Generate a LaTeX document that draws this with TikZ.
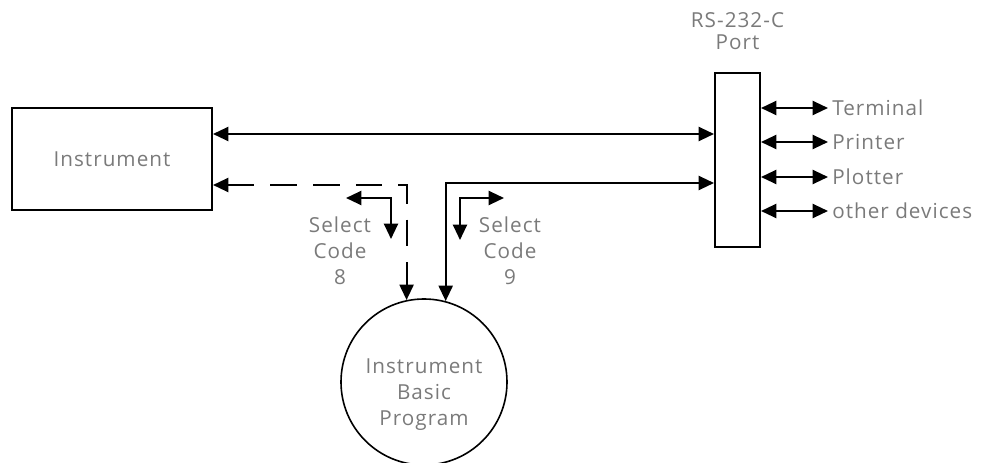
\documentclass[tikz,border=0pt]{standalone}
\usepackage{fontspec}
\setmainfont[LetterSpace=5]{Open Sans}
\usetikzlibrary{arrows.meta}
\definecolor{txtgray}{HTML}{7A7A7A}
\begin{document}
\begin{tikzpicture}[x=0.75pt,y=-0.75pt,
  lbl/.style={text=txtgray, font=\fontsize{15.5}{19.5}\selectfont, align=center, inner sep=0pt},
  devlbl/.style={text=txtgray, font=\fontsize{15.5}{19.5}\selectfont, anchor=west, inner xsep=3pt, inner ysep=0pt, text height=11.2pt, text depth=0pt},
  boxn/.style={draw, line width=1.5pt, inner sep=0pt},
  conn/.style={line width=1.6pt, {Triangle[length=11.5pt,width=10.5pt]}-{Triangle[length=11.5pt,width=10.5pt]}},
  dashconn/.style={conn, dash pattern=on 20pt off 12pt}
]
\useasboundingbox (0,0) rectangle (1000,463);

% main blocks
\node[boxn, minimum width=150pt, minimum height=76.5pt, text=txtgray, font=\fontsize{15.5}{19.5}\selectfont] (inst) at (112,159) {Instrument};
\node[boxn, minimum width=33.75pt, minimum height=130.5pt] (port) at (737.5,160) {};
\node[lbl, font=\fontsize{15.5}{16.5}\selectfont] (porttitle) at (737.5,31) {RS-232-C\\Port};
\node[draw, circle, line width=1.2pt, minimum size=124.5pt, inner sep=0pt] (prog) at (424,382) {};
\node[lbl] (progtxt) at (424,395) {Instrument\\Basic\\Program};

% row coordinates
\coordinate (r1) at (0,134);
\coordinate (r2) at (0,185);
\coordinate (r3) at (0,183);

% main connectors
\draw[conn] (inst.east |- r1) -- (port.west |- r1);
\draw[dashconn] (inst.east |- r2) -| (prog.102);
\draw[conn] (port.west |- r3) -| (prog.75);

% select code 8
\coordinate (s8a) at (346,198);
\coordinate (s8b) at (391,239);
\draw[conn] (s8a) -| (s8b);
\node[lbl] (sc8) at (340,251) {Select\\Code\\8};

% select code 9
\coordinate (s9a) at (504,198);
\coordinate (s9b) at (460,240);
\draw[conn] (s9a) -| (s9b);
\node[lbl] (sc9) at (510,251) {Select\\Code\\9};

% devices
\node[devlbl] (term) at (828,108) {Terminal};
\node[devlbl] (print) at (828,142) {Printer};
\node[devlbl] (plot) at (828,177) {Plotter};
\node[devlbl] (other) at (828,211) {other devices};
\foreach \d in {term,print,plot,other}
  \draw[conn] (port.east |- \d.west) -- (\d.west);
\end{tikzpicture}
\end{document}
